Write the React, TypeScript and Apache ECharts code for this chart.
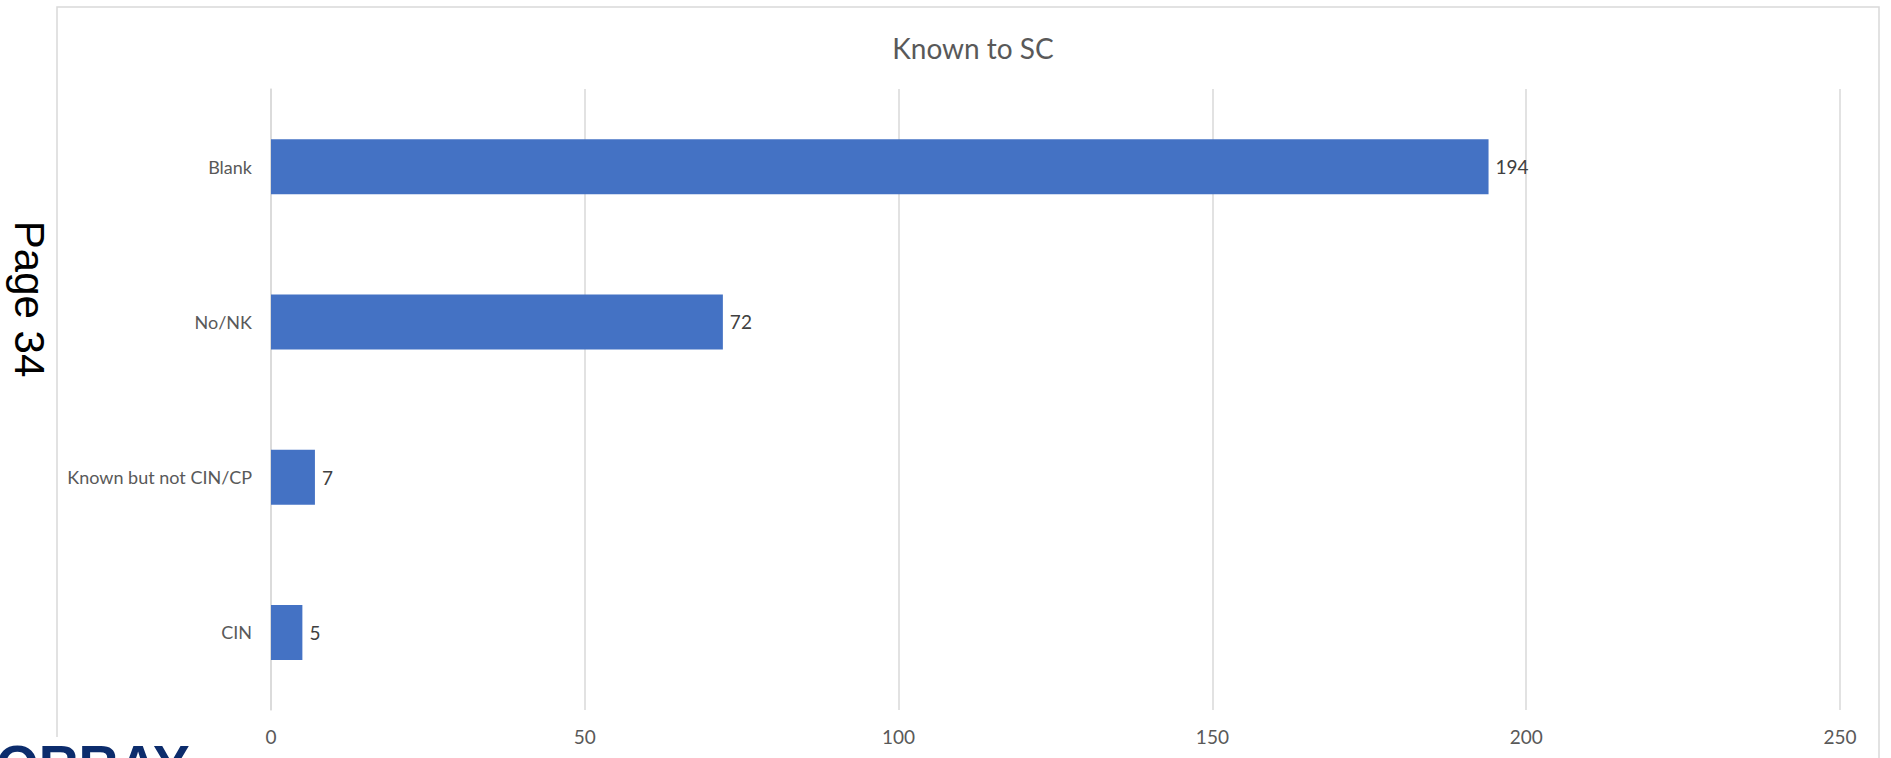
import React, { useEffect, useRef } from "react";
import * as echarts from "echarts";

const categories = ["Blank", "No/NK", "Known but not CIN/CP", "CIN"];
const values = [194, 72, 7, 5];
const xTicks = { min: 0, max: 250, interval: 50 };
const chartTitle = "Known to SC";
const pageText = "Page 34";
const logoText = "ORRAY";

export default function App() {
  const ref = useRef<HTMLDivElement>(null);
  useEffect(() => {
    if (!ref.current) return;
    const chart = echarts.init(ref.current, null, { renderer: "svg" });
    const font = "Lato, 'Open Sans', sans-serif";
    chart.setOption({
      animation: false,
      backgroundColor: "#ffffff",
      title: {
        text: chartTitle,
        left: 968,
        top: 29,
        textAlign: "center",
        textStyle: { color: "#595959", fontSize: 28, fontWeight: "normal", fontFamily: font, lineHeight: 28 },
      },
      graphic: [
        {
          type: "rect",
          shape: { x: 57, y: 7, width: 1822, height: 800 },
          style: { fill: "none", stroke: "#d9d9d9", lineWidth: 1.5 },
          silent: true,
          z: -10,
        },
        {
          type: "rect",
          shape: { x: 0, y: 737, width: 200, height: 30 },
          style: { fill: "#ffffff" },
          silent: true,
          z: 50,
        },
        {
          type: "text",
          x: -4,
          y: 765,
          z: 51,
          style: {
            text: logoText,
            fill: "#0c2c6c",
            font: "bold 55px 'Liberation Sans', Arial, sans-serif",
            textAlign: "left",
            textVerticalAlign: "middle",
          },
        },
        {
          type: "text",
          x: 29,
          y: 299,
          rotation: -Math.PI / 2,
          z: 51,
          style: {
            text: pageText,
            fill: "#000000",
            font: "42px 'Liberation Sans', Arial, sans-serif",
            textAlign: "center",
            textVerticalAlign: "middle",
          },
        },
      ],
      grid: { left: 271, right: 51, top: 89, bottom: 48, containLabel: false },
      xAxis: {
        type: "value",
        min: xTicks.min,
        max: xTicks.max,
        interval: xTicks.interval,
        axisLine: { show: false },
        axisTick: { show: false },
        splitLine: { show: true, lineStyle: { color: "#d9d9d9", width: 1.5 } },
        axisLabel: { color: "#595959", fontSize: 19, fontFamily: font, margin: 17 },
      },
      yAxis: {
        type: "category",
        data: categories,
        inverse: true,
        axisLine: { show: true, lineStyle: { color: "#d9d9d9", width: 1.5 } },
        axisTick: { show: false },
        axisLabel: { color: "#595959", fontSize: 18, fontFamily: font, margin: 19 },
      },
      series: [
        {
          type: "bar",
          data: values,
          barWidth: 55,
          itemStyle: { color: "#4472C4" },
          label: {
            show: true,
            position: "right",
            distance: 7,
            color: "#404040",
            fontSize: 19,
            fontFamily: font,
          },
        },
      ],
    });
    return () => chart.dispose();
  }, []);
  return (
    <div
      ref={ref}
      style={{ position: "fixed", left: 0, top: 0, width: 1891, height: 758 }}
    />
  );
}
